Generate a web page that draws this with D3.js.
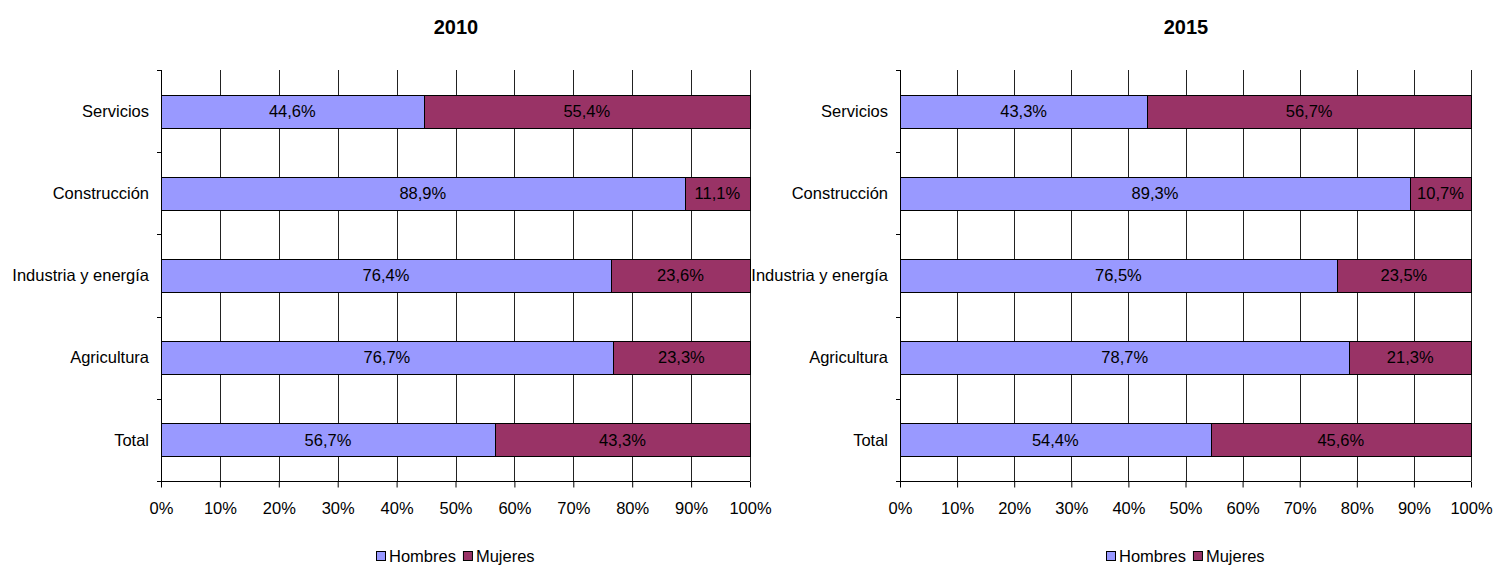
<!DOCTYPE html>
<html>
<head>
<meta charset="utf-8">
<script src="https://cdn.jsdelivr.net/npm/d3@7"></script>
<style>
  body { margin: 0; background: #fff; }
  text { font-family: "Liberation Sans", Arial, sans-serif; fill: #000; }
</style>
</head>
<body>
<div id="chart"></div>
<script>
// data
const categories = ["Servicios", "Construcción", "Industria y energía", "Agricultura", "Total"];
const years = ["2010", "2015"];
const hombres2010 = [44.6, 88.9, 76.4, 76.7, 56.7];
const mujeres2010 = [55.4, 11.1, 23.6, 23.3, 43.3];
const hombres2015 = [43.3, 89.3, 76.5, 78.7, 54.4];
const mujeres2015 = [56.7, 10.7, 23.5, 21.3, 45.6];
const seriesNames = ["Hombres", "Mujeres"];
const colors = ["#9999ff", "#993366"];
const xTicks = [0, 10, 20, 30, 40, 50, 60, 70, 80, 90, 100];

const W = 1495, H = 565;
const FS = "16.5px";
const svg = d3.select("#chart").append("svg")
  .attr("width", W)
  .attr("height", H);

const panels = [
  { year: years[0], h: hombres2010, m: mujeres2010, x0: 161, x1: 750 },
  { year: years[1], h: hombres2015, m: mujeres2015, x0: 900, x1: 1471 }
];

const plotTop = 70, plotBottom = 481;
const fmt = v => d3.format(".1f")(v).replace(".", ",") + "%";

panels.forEach(function(p) {
  const g = svg.append("g");

  const x = d3.scaleLinear().domain([0, 100]).range([p.x0, p.x1]);
  const y = d3.scaleBand().domain(categories).range([plotTop, plotBottom])
    .paddingInner(0.6).paddingOuter(0.3);

  // vertical grid
  g.append("g").selectAll("line")
    .data(xTicks.slice(1))
    .join("line")
    .attr("x1", d => Math.round(x(d)) + 0.5)
    .attr("x2", d => Math.round(x(d)) + 0.5)
    .attr("y1", plotTop)
    .attr("y2", plotBottom)
    .attr("stroke", "#222")
    .attr("stroke-width", 1);

  // stacked bars
  const rows = categories.map((c, i) => ({ cat: c, vals: [p.h[i], p.m[i]] }));
  rows.forEach(function(r) {
    let acc = 0;
    r.vals.forEach(function(v, k) {
      const xs = x(acc), xe = x(acc + v);
      g.append("rect")
        .attr("x", Math.round(xs) + 0.5)
        .attr("y", Math.round(y(r.cat)) + 0.5)
        .attr("width", Math.round(xe) - Math.round(xs))
        .attr("height", Math.round(y.bandwidth()))
        .attr("fill", colors[k])
        .attr("stroke", "#000")
        .attr("stroke-width", 1);
      g.append("text")
        .attr("x", (xs + xe) / 2)
        .attr("y", y(r.cat) + y.bandwidth() / 2)
        .attr("dy", "0.35em")
        .attr("text-anchor", "middle")
        .style("font-size", FS)
        .text(fmt(v));
      acc += v;
    });
  });

  // y axis
  const step = (plotBottom - plotTop) / categories.length;
  const yAxisG = g.append("g");
  yAxisG.append("line")
    .attr("x1", p.x0 + 0.5).attr("x2", p.x0 + 0.5)
    .attr("y1", plotTop).attr("y2", plotBottom)
    .attr("stroke", "#000");
  yAxisG.selectAll("line.tk")
    .data(d3.range(categories.length + 1))
    .join("line")
    .attr("class", "tk")
    .attr("x1", p.x0 - 4).attr("x2", p.x0)
    .attr("y1", d => Math.round(plotTop + d * step) + 0.5)
    .attr("y2", d => Math.round(plotTop + d * step) + 0.5)
    .attr("stroke", "#000");
  yAxisG.selectAll("text")
    .data(categories)
    .join("text")
    .attr("x", p.x0 - 12)
    .attr("y", d => y(d) + y.bandwidth() / 2)
    .attr("dy", "0.35em")
    .attr("text-anchor", "end")
    .style("font-size", FS)
    .text(d => d);

  // x axis
  const xAxis = d3.axisBottom(x)
    .tickValues(xTicks)
    .tickFormat(d => d + "%")
    .tickSize(6)
    .tickPadding(15);
  const xg = g.append("g")
    .attr("transform", "translate(0," + (plotBottom + 0.5) + ")")
    .call(xAxis);
  xg.select(".domain").attr("stroke", "#000").attr("d", "M" + p.x0 + ",0H" + p.x1);
  xg.selectAll(".tick line").attr("stroke", "#000");
  xg.selectAll("text")
    .style("font-size", FS)
    .style("font-family", "'Liberation Sans', Arial, sans-serif")
    .attr("fill", "#000");

  // title
  g.append("text")
    .attr("x", (p.x0 + p.x1) / 2 + 0.5)
    .attr("y", 34)
    .attr("text-anchor", "middle")
    .style("font-size", "20px")
    .style("font-weight", "bold")
    .text(p.year);

  // legend
  const lg = g.append("g");
  let lx = 0;
  seriesNames.forEach(function(s, k) {
    lg.append("rect")
      .attr("x", lx + 0.5).attr("y", -4.5)
      .attr("width", 9).attr("height", 9)
      .attr("fill", colors[k])
      .attr("stroke", "#000");
    const t = lg.append("text")
      .attr("x", lx + 13)
      .attr("y", 0)
      .attr("dy", "0.35em")
      .style("font-size", FS)
      .text(s);
    lx += 13 + t.node().getComputedTextLength() + (k === 0 ? 7 : 0);
  });
  lg.attr("transform", "translate(" + Math.round((p.x0 + p.x1) / 2 - lx / 2) + ",556)");
});
</script>
</body>
</html>
